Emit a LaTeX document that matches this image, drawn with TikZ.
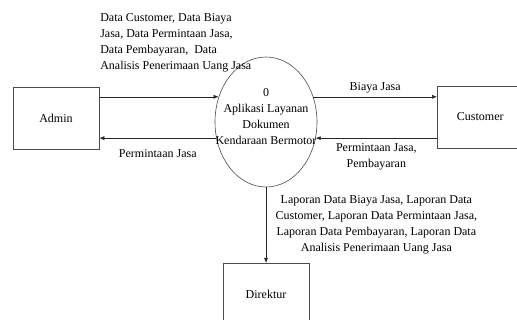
\documentclass[tikz,border=0pt]{standalone}
\usepackage{fontspec}
\setmainfont{Liberation Serif}
\usetikzlibrary{positioning, arrows.meta, shapes.geometric}

\begin{document}
\begin{tikzpicture}[ x = 1pt, y = -1pt
                   , font = \fontsize{12}{16}\selectfont
                   , >={Latex[width=4pt, length=5pt]}
                   , line width = 0.6pt
                   , entitas/.style = { rectangle
                                      , draw = black!70
                                      , minimum width = 86pt
                                      , minimum height = 62pt }
                   , lingkaran/.style = { ellipse
                                        , draw = black!70
                                        , minimum width = 102pt
                                        , minimum height = 130pt
                                        , inner sep = 0pt }
                   , aliran/.style = { ->, draw = black!85 }
                   ]
  \useasboundingbox (0,0) rectangle (517,320);

  \node (admin) [entitas] at (56,118) {Admin};
  \node (proses) [lingkaran] at (266,122) {};
  \node (prosesteks) [align = center] at (266,117)
  {0\\Aplikasi Layanan\\Dokumen\\Kendaraan Bermotor};
  \node (customer) [entitas, anchor = west] at (437,117) {Customer};
  \node (direktur) [entitas, anchor = north] at (266,263) {Direktur};

  \node (teksatas) [align = left, anchor = west, inner sep = 0pt] at (100,43)
  {Data Customer, Data Biaya\\Jasa, Data Permintaan Jasa,\\Data Pembayaran,\ \ Data\\Analisis Penerimaan Uang Jasa};

  \draw[aliran] (admin.east |- proses.152) -- (proses.152);

  \draw[aliran] (proses.198)
  -- node [below = 8pt] {Permintaan Jasa}
  (admin.east |- proses.198);

  \draw[aliran] (proses.28)
  -- node [above] {Biaya Jasa}
  (customer.west |- proses.28);

  \draw[aliran] (customer.west |- proses.342)
  -- node [below = 2pt, align = center] {Permintaan Jasa,\\Pembayaran}
  (proses.342);

  \draw[aliran] (proses.south)
  -- node [right = 6pt, align = center]
  {Laporan Data Biaya Jasa, Laporan Data\\Customer, Laporan Data Permintaan Jasa,\\Laporan Data Pembayaran, Laporan Data\\Analisis Penerimaan Uang Jasa}
  (direktur.north);

\end{tikzpicture}
\end{document}
